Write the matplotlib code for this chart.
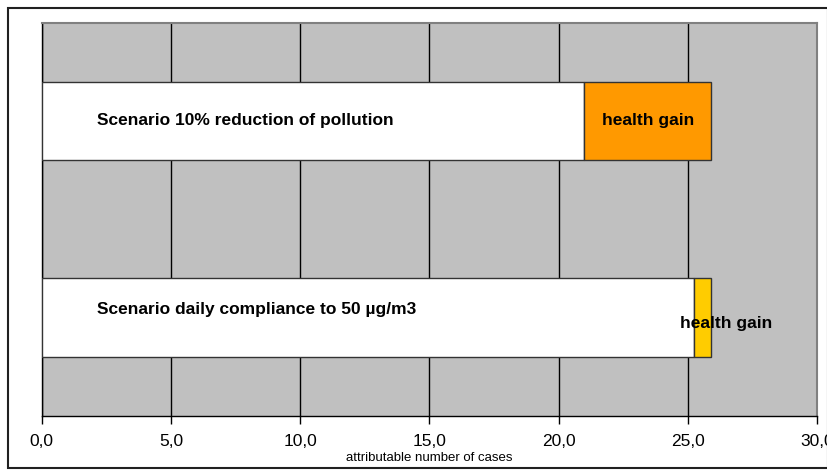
import matplotlib.pyplot as plt
from matplotlib.patches import Rectangle
from matplotlib.ticker import FuncFormatter

plt.rcParams['font.family'] = ['Liberation Sans', 'DejaVu Sans']

# datos
scenarios = ['Scenario daily compliance to 50 µg/m3', 'Scenario 10% reduction of pollution']
remaining = [25.25, 21.0]
gain = [0.65, 4.9]
gain_colors = ['#FFCC00', '#FF9900']
xticks = [0, 5, 10, 15, 20, 25, 30]

fig = plt.figure(figsize=(8.28, 4.70), dpi=100)
# marco exterior del grafico
fig.patches.append(Rectangle((8 / 828, 1 - 468 / 470), 820 / 828, 460 / 470,
                             transform=fig.transFigure, fill=False,
                             edgecolor='#202020', linewidth=1.5))
ax = fig.add_axes([41.7 / 828, 1 - 416 / 470, (817 - 41.7) / 828, (416 - 22.5) / 470])
ax.set_facecolor('#C0C0C0')

pos = list(range(len(scenarios)))
ax.barh(pos, remaining, height=0.4, color='white', edgecolor='#333333', linewidth=1, zorder=3)
ax.barh(pos, gain, left=remaining, height=0.4, color=gain_colors, edgecolor='#333333',
        linewidth=1, zorder=3)

# etiquetas dentro de las barras
for i, name in enumerate(scenarios):
    ax.text(2.15, i + (0.04 if i == 0 else 0), name, fontsize=12.5, fontweight='bold',
            va='center', ha='left', zorder=4)
ax.text(23.45, 1, 'health gain', fontsize=12.5, fontweight='bold', va='center', ha='center', zorder=4)
ax.text(26.5, -0.03, 'health gain', fontsize=12.5, fontweight='bold', va='center', ha='center', zorder=4)

ax.set_xlim(0, 30)
ax.set_ylim(-0.5, 1.5)
ax.set_xticks(xticks)
ax.xaxis.set_major_formatter(FuncFormatter(lambda v, p: f'{v:.1f}'.replace('.', ',')))
ax.set_yticks([])
ax.grid(axis='x', color='black', linewidth=1, zorder=1)
ax.tick_params(axis='x', direction='out', length=6, width=1, labelsize=12.5, pad=7)
ax.set_xlabel('attributable number of cases', fontsize=9.5, labelpad=2)

for s in ['top', 'right']:
    ax.spines[s].set_color('#808080')
    ax.spines[s].set_linewidth(1.5)
for s in ['left', 'bottom']:
    ax.spines[s].set_color('black')
    ax.spines[s].set_linewidth(1)

plt.savefig('out.png', dpi=100)
